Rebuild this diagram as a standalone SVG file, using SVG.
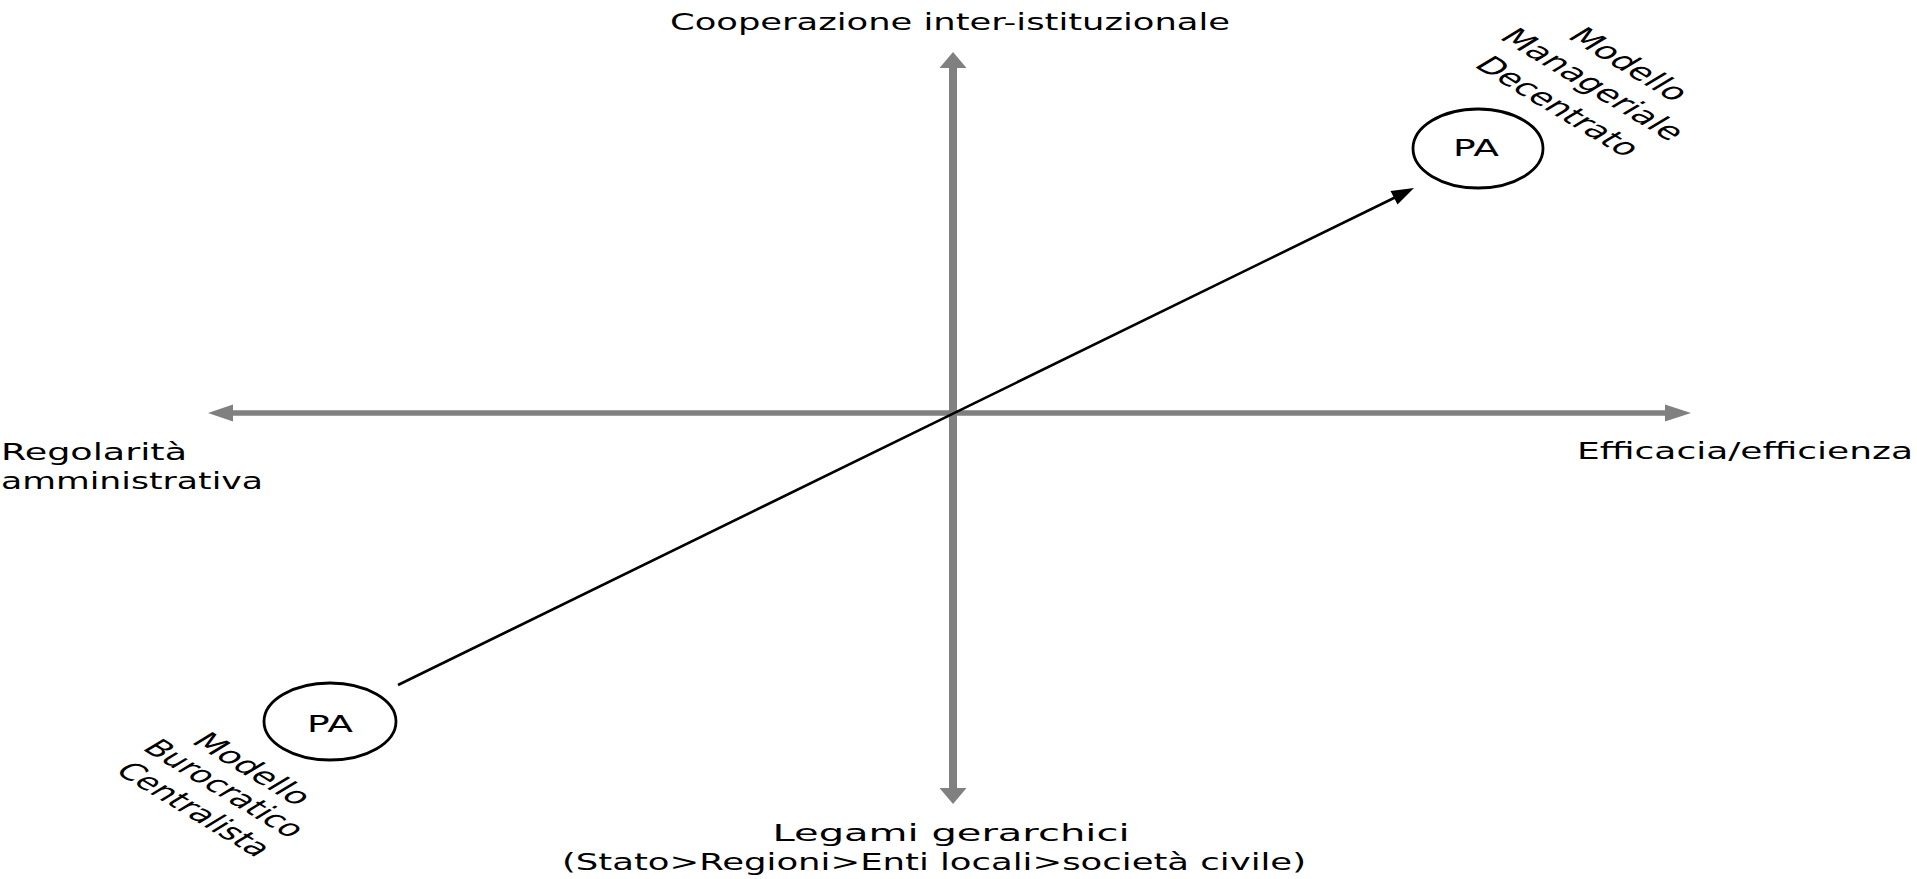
<svg xmlns="http://www.w3.org/2000/svg" width="1917" height="879" viewBox="0 0 1917 879">
<style>
.axis{stroke:#808080;fill:none}
.head{fill:#808080;stroke:none}
.node{fill:#ffffff;stroke:#000000;stroke-width:2.8}
.t{font-family:"DejaVu Sans","Liberation Sans",sans-serif;font-size:23px;fill:#000000}
.link{stroke:#000000;stroke-width:2.6;fill:none}
</style>
<rect width="1917" height="879" fill="#ffffff"/>
<g id="connectors">
  <line class="axis" x1="953" y1="66" x2="953" y2="790" stroke-width="8"/>
  <polygon class="head" points="953,52 966.5,68 939.5,68"/>
  <polygon class="head" points="953,804 966.5,788 939.5,788"/>
  <line class="axis" x1="231" y1="413" x2="1667" y2="413" stroke-width="5.5"/>
  <polygon class="head" points="208,413 233,404.5 233,421.5"/>
  <polygon class="head" points="1691,413 1665,404.5 1665,421.5"/>
  <line class="link" x1="398" y1="685" x2="1397" y2="196.5"/>
  <polygon points="1414,188 1390.5,191 1397.5,204.5" fill="#000000"/>
</g>
<g id="axis-labels">
  <text class="t" x="950" y="30" text-anchor="middle" textLength="560" lengthAdjust="spacingAndGlyphs">Cooperazione inter-istituzionale</text>
  <text class="t" x="1" y="460" textLength="186" lengthAdjust="spacingAndGlyphs">Regolarità</text>
  <text class="t" x="1" y="489" textLength="262" lengthAdjust="spacingAndGlyphs">amministrativa</text>
  <text class="t" x="1577" y="459" textLength="336" lengthAdjust="spacingAndGlyphs">Efficacia/efficienza</text>
  <text class="t" x="951" y="841" text-anchor="middle" textLength="357" lengthAdjust="spacingAndGlyphs">Legami gerarchici</text>
  <text class="t" x="562" y="870" textLength="744" lengthAdjust="spacingAndGlyphs">(Stato&gt;Regioni&gt;Enti locali&gt;società civile)</text>
</g>
<g id="node-manageriale">
  <ellipse class="node" cx="1478" cy="148.5" rx="65" ry="39.5"/>
  <text class="t" x="1476" y="156" text-anchor="middle" textLength="46" lengthAdjust="spacingAndGlyphs">PA</text>
  <text class="t" transform="translate(1628 65) scale(1.65 1) rotate(45)" text-anchor="middle" dy="0.3em" textLength="92" lengthAdjust="spacingAndGlyphs">Modello</text>
  <text class="t" transform="translate(1592 85) scale(1.65 1) rotate(45)" text-anchor="middle" dy="0.3em" textLength="147" lengthAdjust="spacingAndGlyphs">Manageriale</text>
  <text class="t" transform="translate(1557 107) scale(1.65 1) rotate(45)" text-anchor="middle" dy="0.3em" textLength="130" lengthAdjust="spacingAndGlyphs">Decentrato</text>
</g>
<g id="node-burocratico">
  <ellipse class="node" cx="330" cy="721.5" rx="66" ry="38.5"/>
  <text class="t" x="330" y="732" text-anchor="middle" textLength="46" lengthAdjust="spacingAndGlyphs">PA</text>
  <text class="t" transform="translate(251.5 769.5) scale(1.65 1) rotate(45)" text-anchor="middle" dy="0.3em" textLength="91" lengthAdjust="spacingAndGlyphs">Modello</text>
  <text class="t" transform="translate(223.5 789) scale(1.65 1) rotate(45)" text-anchor="middle" dy="0.3em" textLength="127" lengthAdjust="spacingAndGlyphs">Burocratico</text>
  <text class="t" transform="translate(193 810) scale(1.65 1) rotate(45)" text-anchor="middle" dy="0.3em" textLength="122" lengthAdjust="spacingAndGlyphs">Centralista</text>
</g>
</svg>
